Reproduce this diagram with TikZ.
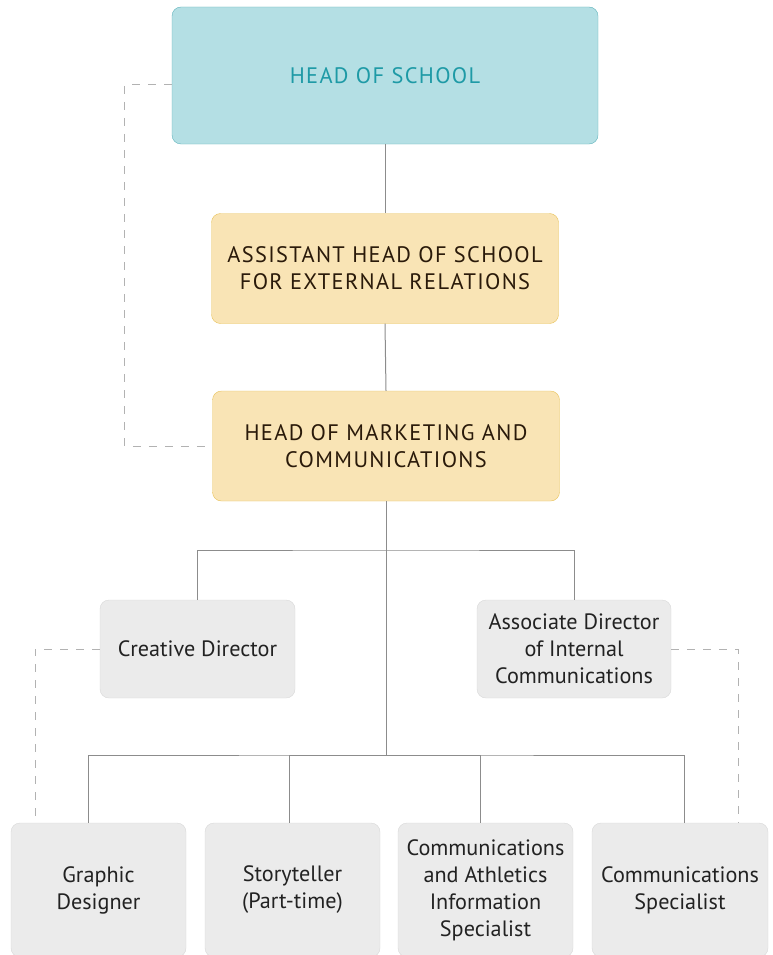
\documentclass[tikz,border=0pt]{standalone}
\usepackage{fontspec}
\setmainfont{PT Sans}
\newfontfamily\capsfont[LetterSpace=6]{PT Sans}
\usetikzlibrary{positioning}
\definecolor{hosfill}{HTML}{B4DFE4}
\definecolor{hosline}{HTML}{5FB3BB}
\definecolor{hostext}{HTML}{1E9AA6}
\definecolor{mgrfill}{HTML}{F9E4B5}
\definecolor{mgrline}{HTML}{E8C25A}
\definecolor{mgrtext}{HTML}{2A1A0A}
\definecolor{stafffill}{HTML}{EBEBEB}
\definecolor{staffline}{HTML}{D8D8D8}
\definecolor{stafftext}{HTML}{222222}
\tikzset{box/.style = {draw, rounded corners = 9, align = center, inner sep = 0}}
\tikzset{headbox/.style = {box, fill = hosfill, draw = hosline, text = hostext,
                           font = \capsfont\fontsize{22.4}{27}\selectfont}}
\tikzset{mgrbox/.style = {box, fill = mgrfill, draw = mgrline, text = mgrtext,
                          minimum width = 347, minimum height = 110,
                          font = \capsfont\fontsize{22.4}{27}\selectfont}}
\tikzset{staffbox/.style = {box, fill = stafffill, draw = staffline, text = stafftext,
                            font = \fontsize{22.2}{27}\selectfont}}
\tikzset{link/.style = {draw = black!45, line width = 1}}
\tikzset{dotlink/.style = {draw = black!30, line width = 1, dash pattern = on 8 off 8}}

\begin{document}
\begin{tikzpicture}[x = 1pt, y = -1pt]
      \useasboundingbox (0, 0) rectangle (772, 955);
      \clip (0, 0) rectangle (772, 955);

      % top of the chart
      \node [headbox, minimum width = 426, minimum height = 137] (hos) at (385, 75.5) {HEAD OF SCHOOL};
      \node [mgrbox] (ahs) at (385, 268.5) {ASSISTANT HEAD OF SCHOOL\\FOR EXTERNAL RELATIONS};
      \node [mgrbox] (hom) at (386, 446) {HEAD OF MARKETING AND\\COMMUNICATIONS};

      % directors
      \node [staffbox, minimum width = 195, minimum height = 98] (cd) at (197.5, 649) {Creative Director};
      \node [staffbox, minimum width = 194, minimum height = 98] (aic) at (574, 649) {Associate Director\\of Internal\\Communications};

      % staff row
      \node [staffbox, minimum width = 175, minimum height = 134] (gd) at (98.5, 890) {Graphic\\Designer};
      \node [staffbox, minimum width = 175, minimum height = 134] (st) at (292.5, 890) {Storyteller\\(Part-time)};
      \node [staffbox, minimum width = 175, minimum height = 134] (cai) at (485.5, 890) {Communications\\and Athletics\\Information\\Specialist};
      \node [staffbox, minimum width = 176, minimum height = 134] (cs) at (680, 890) {Communications\\Specialist};

      \coordinate (split1) at (386, 550);
      \coordinate (split2) at (386, 755);

      \draw [link] (hos.south) -- (ahs.north);
      \draw [link] (ahs.south) -- (hom.north);
      \draw [link] (hom.south) -- (split2);
      \draw [link] (cd.north) |- (split1) -| (aic.north);
      \draw [link] ([xshift = -10.5]gd.north) |- (split2) -| ([xshift = 4]cs.north);
      \draw [link] ([xshift = -3.5]st.north) |- (split2);
      \draw [link] ([xshift = -5.5]cai.north) |- (split2);

      % dotted reporting lines
      \draw [dotlink] ([yshift = -9.5]hos.west) -- ++(-47, 0) |- (hom.west);
      \draw [dotlink] (cd.west) -| ([xshift = -63.5]gd.north);
      \draw [dotlink] (aic.east) -| ([xshift = 58]cs.north);
    \end{tikzpicture}
\end{document}
